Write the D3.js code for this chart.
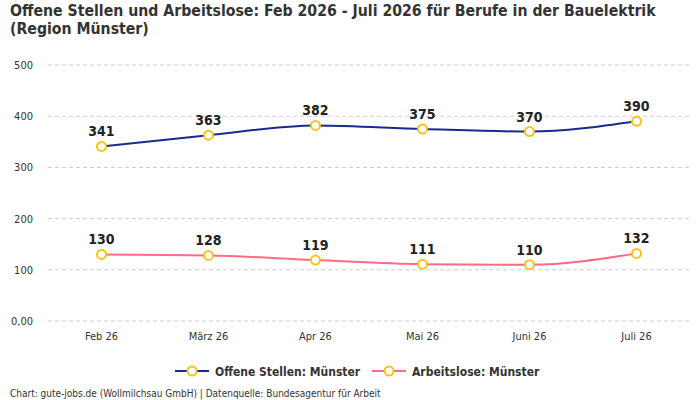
<!DOCTYPE html>
<html>
<head>
<meta charset="utf-8">
<script src="https://cdn.jsdelivr.net/npm/d3@7"></script>
<style>
  body { margin: 0; background: #fff; }
  svg { font-family: "Liberation Sans Narrow", "DejaVu Sans Condensed", "Roboto", sans-serif; }
</style>
</head>
<body>
<div class="chart-container"></div>
<script>
const months = ["Feb 26", "März 26", "Apr 26", "Mai 26", "Juni 26", "Juli 26"];
const offeneStellen = [341, 363, 382, 375, 370, 390];
const arbeitslose = [130, 128, 119, 111, 110, 132];
const yTicks = [0, 100, 200, 300, 400, 500];
const seriesNames = ["Offene Stellen: Münster", "Arbeitslose: Münster"];
const seriesColors = ["#1b2a8c", "#ff6b86"];

const width = 700, height = 400;
const margin = { top: 65, right: 10, bottom: 79, left: 48 };

const svg = d3.select(".chart-container")
    .append("svg")
    .attr("width", width)
    .attr("height", height);

// title
svg.append("text")
    .attr("x", 10).attr("y", 16)
    .attr("font-size", 15.7).attr("font-weight", "bold").attr("fill", "#333")
    .text("Offene Stellen und Arbeitslose: Feb 2026 - Juli 2026 für Berufe in der Bauelektrik");
svg.append("text")
    .attr("x", 10).attr("y", 34)
    .attr("font-size", 15.7).attr("font-weight", "bold").attr("fill", "#333")
    .text("(Region Münster)");

const x = d3.scalePoint()
    .domain(months)
    .range([margin.left, width - margin.right])
    .padding(0.5);

const y = d3.scaleLinear()
    .domain([0, 500])
    .range([height - margin.bottom, margin.top]);

// grid
svg.append("g")
    .selectAll("line")
    .data(yTicks)
    .enter()
    .append("line")
    .attr("x1", margin.left)
    .attr("x2", width - margin.right)
    .attr("y1", d => y(d))
    .attr("y2", d => y(d))
    .attr("stroke", "#ccc")
    .attr("stroke-dasharray", "4,3");

// y axis labels
svg.append("g")
    .selectAll("text")
    .data(yTicks)
    .enter()
    .append("text")
    .attr("x", 33)
    .attr("y", d => y(d) + 4)
    .attr("text-anchor", "end")
    .attr("font-size", 11)
    .attr("fill", "#333")
    .text(d => d === 0 ? "0,00" : d);

// x axis labels
svg.append("g")
    .selectAll("text")
    .data(months)
    .enter()
    .append("text")
    .attr("x", d => x(d))
    .attr("y", 340)
    .attr("text-anchor", "middle")
    .attr("font-size", 11)
    .attr("fill", "#333")
    .text(d => d);

const line = d3.line()
    .x((d, i) => x(months[i]))
    .y(d => y(d))
    .curve(d3.curveMonotoneX);

[offeneStellen, arbeitslose].forEach((values, s) => {
    const g = svg.append("g");
    g.append("path")
        .attr("d", line(values))
        .attr("fill", "none")
        .attr("stroke", seriesColors[s])
        .attr("stroke-width", 2);
    g.selectAll("circle")
        .data(values)
        .enter()
        .append("circle")
        .attr("cx", (d, i) => x(months[i]))
        .attr("cy", d => y(d))
        .attr("r", 4.5)
        .attr("fill", "#fff")
        .attr("stroke", "#f8c21c")
        .attr("stroke-width", 2);
    g.selectAll("text")
        .data(values)
        .enter()
        .append("text")
        .attr("x", (d, i) => x(months[i]))
        .attr("y", d => y(d) - 10)
        .attr("text-anchor", "middle")
        .attr("font-size", 14)
        .attr("font-weight", "bold")
        .attr("fill", "#222")
        .text(d => d);
});

// legend
const legendX = [175, 372];
seriesNames.forEach((name, s) => {
    const lg = svg.append("g").attr("transform", "translate(" + legendX[s] + ",371)");
    lg.append("line")
        .attr("x1", 0).attr("x2", 34)
        .attr("stroke", seriesColors[s]).attr("stroke-width", 2);
    lg.append("circle")
        .attr("cx", 17).attr("r", 4.5)
        .attr("fill", "#fff").attr("stroke", "#f8c21c").attr("stroke-width", 2);
    lg.append("text")
        .attr("x", 40).attr("y", 4.5)
        .attr("font-size", 12).attr("font-weight", "bold").attr("fill", "#333")
        .text(name);
});

// footer
svg.append("text")
    .attr("x", 10).attr("y", 397)
    .attr("font-size", 10).attr("fill", "#333")
    .text("Chart: gute-jobs.de (Wollmilchsau GmbH) | Datenquelle: Bundesagentur für Arbeit");
</script>
</body>
</html>
